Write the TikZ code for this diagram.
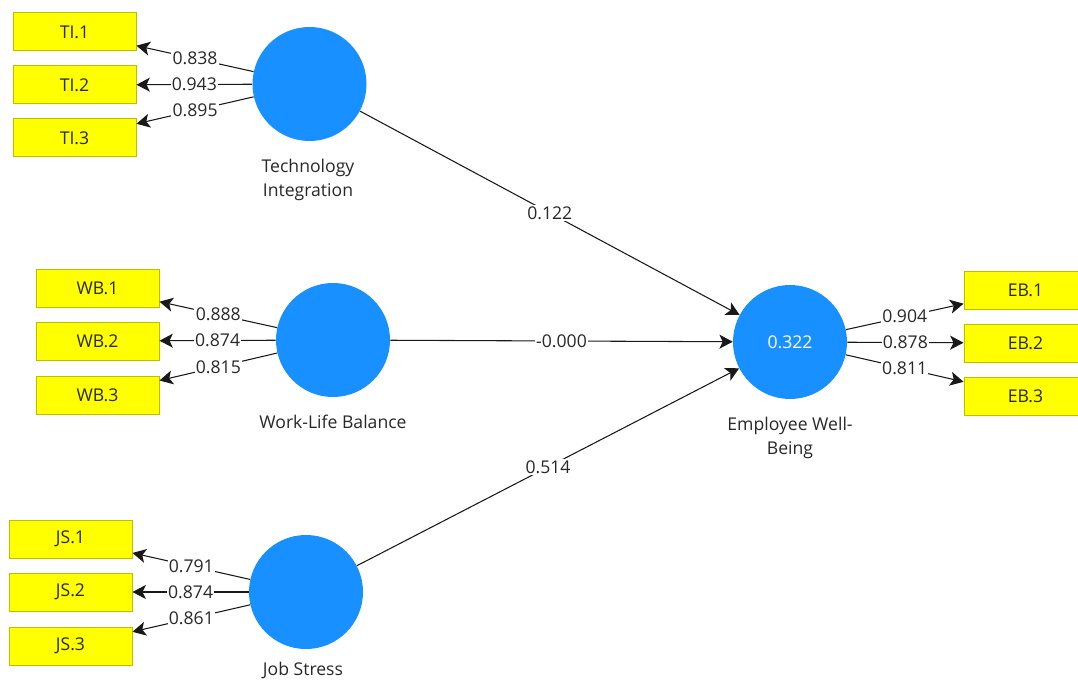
\documentclass[tikz,border=0pt]{standalone}
\usepackage{fontspec}
\setmainfont{Open Sans}
\usetikzlibrary{arrows.meta}
\definecolor{lvblue}{RGB}{24,144,255}
\definecolor{indyellow}{RGB}{255,255,0}
\definecolor{indborder}{RGB}{190,190,0}
\definecolor{txt}{RGB}{40,40,40}
\tikzset{
  lv/.style={circle,fill=lvblue,draw=none,minimum size=85.5pt,inner sep=0pt,text=white,font=\fontsize{13.2}{15}\selectfont},
  ind/.style={rectangle,fill=indyellow,draw=indborder,line width=0.75pt,minimum width=92.25pt,minimum height=28.5pt,inner sep=0pt,font=\fontsize{13.2}{15}\selectfont,text=txt},
  lvcaption/.style={align=center,font=\fontsize{13.2}{18}\selectfont,text=txt},
  conn/.style={draw=black!90,line width=0.8pt,-{Stealth[length=10pt,width=10.5pt,inset=2.5pt]}},
  wt/.style={fill=white,inner sep=1pt,font=\fontsize{13.2}{15}\selectfont,text=txt,pos=0.5}
}
\begin{document}
\begin{tikzpicture}[x=0.75pt,y=-0.75pt]
\useasboundingbox (0,0) rectangle (1078,681);
% latent variables
\node[lv] (ti) at (309.5,84) {};
\node[lv] (wb) at (333,340) {};
\node[lv] (eb) at (790,342) {0.322};
\node[lv] (js) at (306,592) {};
% captions
\node[lvcaption] (tic) at (308,180) {Technology\\Integration};
\node[lvcaption] (wbc) at (333,422) {Work-Life Balance};
\node[lvcaption] (ebc) at (790,438) {Employee Well-\\Being};
\node[lvcaption] (jsc) at (303,670) {Job Stress};
% indicators
\node[ind] (ti1) at (74.5,32) {TI.1};
\node[ind] (ti2) at (74.5,85) {TI.2};
\node[ind] (ti3) at (74.5,138) {TI.3};
\node[ind] (wb1) at (97.5,288) {WB.1};
\node[ind] (wb2) at (97.5,341) {WB.2};
\node[ind] (wb3) at (97.5,395) {WB.3};
\node[ind] (js1) at (70.5,539) {JS.1};
\node[ind] (js2) at (70.5,592) {JS.2};
\node[ind] (js3) at (70.5,646) {JS.3};
\node[ind] (eb1) at (1025.5,290) {EB.1};
\node[ind] (eb2) at (1025.5,343) {EB.2};
\node[ind] (eb3) at (1025.5,396) {EB.3};
% outer loadings
\draw[conn] (ti) -- node[wt] {0.838} (ti1);
\draw[conn] (ti) -- node[wt] {0.943} (ti2);
\draw[conn] (ti) -- node[wt] {0.895} (ti3);
\draw[conn] (wb) -- node[wt] {0.888} (wb1);
\draw[conn] (wb) -- node[wt] {0.874} (wb2);
\draw[conn] (wb) -- node[wt] {0.815} (wb3);
\draw[conn] (js) -- node[wt] {0.791} (js1);
\draw[conn] (js) -- node[wt] {0.874} (js2);
\draw[conn] (js) -- node[wt] {0.861} (js3);
\draw[conn] (eb) -- node[wt] {0.904} (eb1);
\draw[conn] (eb) -- node[wt] {0.878} (eb2);
\draw[conn] (eb) -- node[wt] {0.811} (eb3);
% structural paths
\draw[conn] (ti) -- node[wt] {0.122} (eb);
\draw[conn] (wb) -- node[wt] {-0.000} (eb);
\draw[conn] (js) -- node[wt] {0.514} (eb);
\end{tikzpicture}
\end{document}
